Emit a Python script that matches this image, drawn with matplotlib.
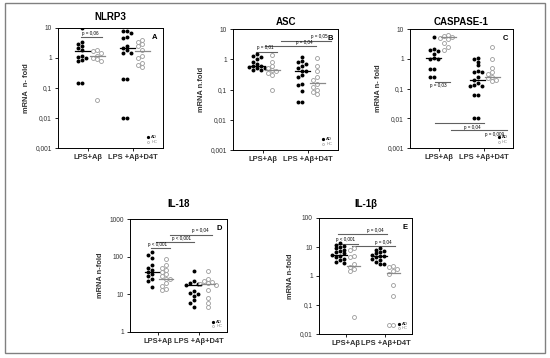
import numpy as np
import matplotlib
matplotlib.use('Agg')
import matplotlib.pyplot as plt
from matplotlib.patches import Rectangle

plt.rcParams['font.family'] = ['Liberation Sans', 'DejaVu Sans']

groups = ['LPS+A\u03b2', 'LPS +A\u03b2+D4T']

# NLRP3
a_ad_ab = [10, 3.5, 3, 2.6, 2.2, 1.9, 1.2, 1.1, 1.0, 0.85, 0.8, 0.15, 0.15]
a_hc_ab = [1.9, 1.7, 1.5, 1.2, 1.0, 0.9, 0.8, 0.04]
a_ad_d4 = [8, 7.8, 7, 5, 4.5, 2.5, 2.1, 1.8, 1.5, 1.5, 0.2, 0.2, 0.01, 0.01]
a_hc_d4 = [4, 3.5, 3, 2.5, 1.8, 1.2, 1.0, 0.7, 0.6, 0.5]
a_med = [1.7, 1.2, 2.2, 1.7]
# ASC
b_ad_ab = [1.5, 1.3, 1.2, 1.0, 0.8, 0.7, 0.62, 0.6, 0.55, 0.5, 0.5, 0.45, 0.45]
b_hc_ab = [1.4, 0.8, 0.6, 0.5, 0.45, 0.4, 0.35, 0.3, 0.1]
b_ad_d4 = [1.2, 0.9, 0.8, 0.7, 0.6, 0.5, 0.4, 0.4, 0.3, 0.25, 0.15, 0.14, 0.09, 0.04, 0.04]
b_hc_d4 = [1.1, 0.6, 0.4, 0.25, 0.2, 0.15, 0.12, 0.1, 0.08, 0.07]
b_med = [0.6, 0.45, 0.4, 0.17]
# CASPASE-1
c_ad_ab = [5.5, 2.2, 2.0, 1.8, 1.5, 1.1, 1.0, 1.0, 0.45, 0.45, 0.25, 0.25]
c_hc_ab = [6.2, 5.8, 5.5, 5.0, 4.5, 3.5, 2.5, 2.0]
c_ad_d4 = [1.1, 1.0, 0.8, 0.6, 0.4, 0.35, 0.35, 0.25, 0.2, 0.15, 0.13, 0.12,
           0.12, 0.06, 0.06, 0.01, 0.01]
c_hc_d4 = [2.4, 1.0, 0.5, 0.35, 0.3, 0.25, 0.22, 0.2, 0.18]
c_med = [1.1, 5.3, 0.2, 0.25]
# IL-18
d_ad_ab = [130, 110, 90, 60, 50, 45, 40, 35, 30, 25, 22, 16]
d_hc_ab = [85, 60, 50, 45, 40, 35, 30, 25, 25, 20, 17, 14, 13]
d_ad_d4 = [42, 22, 20, 19, 18, 12, 11, 10, 9, 7, 6, 4.5]
d_hc_d4 = [42, 25, 22, 21, 20, 19, 18, 13, 8, 6, 4.5]
d_med = [40, 25, 18, 19]
# IL-1b
e_ad_ab = [14, 12, 11, 10, 9, 8, 7, 6.5, 6, 5.5, 5, 4.5, 4, 3.5, 3, 2.8]
e_hc_ab = [9, 8, 5, 4.5, 2.5, 2.0, 1.8, 1.5, 0.04]
e_ad_d4 = [9, 8, 7, 6.5, 6, 5.5, 5, 4.8, 4.5, 4, 3.5, 3, 2.5, 2.5]
e_hc_d4 = [2.2, 2.0, 1.8, 1.5, 1.2, 0.5, 0.2, 0.02, 0.02]
e_med = [5.5, 2.2, 5.0, 1.3]

W, H = 550, 358
fig = plt.figure(figsize=(W / 100, H / 100), dpi=100)
fig.patches.append(Rectangle((5 / W, 1 - 353 / H), 540 / W, 350 / H,
                             transform=fig.transFigure, fill=False,
                             edgecolor='#808080', lw=1))

XPOS = [0.8, 1.3, 2.3, 2.8]  # AD/HC for each group
TICKS = [1.0, 2.5]


def swarm(ax, x0, vals, d=4.0):
    # place points side by side when they overlap (pixel space)
    pts = []
    for v in sorted(vals, reverse=True):
        px, py = ax.transData.transform((x0, v))
        k = 0
        while True:
            off = ((k + 1) // 2) * d * (1 if k % 2 == 0 else -1)
            if all((px + off - qx) ** 2 + (py - qy) ** 2 >= (d * 0.9) ** 2
                   for qx, qy in pts):
                break
            k += 1
        pts.append((px + off, py))
    inv = ax.transData.inverted()
    return np.array([inv.transform(p) for p in pts])


def panel(rect, title, letter, ylabel, ylim, yticks, ylabs, series, meds,
          brackets, title_y):
    l, t, w, h = rect
    ax = fig.add_axes([l / W, 1 - (t + h) / H, w / W, h / H])
    ax.set_yscale('log')
    ax.set_ylim(ylim)
    ax.set_xlim(0, 3.5)
    ax.set_yticks(yticks)
    ax.set_yticklabels(ylabs)
    ax.yaxis.set_minor_locator(plt.NullLocator())
    ax.set_xticks(TICKS)
    ax.set_xticklabels(groups, fontsize=5.4, fontweight='bold',
                       color='#333333')
    ax.tick_params(axis='y', labelsize=4.8, length=2.5, width=0.6, pad=2,
                   labelcolor='#333333')
    ax.tick_params(axis='x', length=2.5, width=0.6, pad=2)
    for s in ax.spines.values():
        s.set_linewidth(0.7)
    ax.set_ylabel(ylabel, fontsize=5.4, fontweight='bold', labelpad=4,
                  color='#333333')
    fig.text((l + w / 2) / W, 1 - title_y / H, title, fontsize=7,
             fontweight='bold', ha='center', va='center')
    ax.text(0.95, 0.95, letter, transform=ax.transAxes, fontsize=5.5,
            fontweight='bold', ha='right', va='top')
    for i, vals in enumerate(series):
        p = swarm(ax, XPOS[i], vals)
        if i % 2 == 0:
            ax.scatter(p[:, 0], p[:, 1], s=8, c='black', linewidths=0,
                       zorder=3)
            col = 'black'
        else:
            ax.scatter(p[:, 0], p[:, 1], s=8, facecolors='white',
                       edgecolors='#9a9a9a', linewidths=0.6, zorder=3)
            col = '#8a8a8a'
        ax.plot([XPOS[i] - 0.25, XPOS[i] + 0.25], [meds[i], meds[i]],
                color=col, lw=0.9, zorder=4)
    for x1, x2, y, lab, below in brackets:
        ax.plot([x1, x2], [y, y], color='#606060', lw=0.8)
        ax.annotate(lab, (x2, y), xytext=(-2, -1.2 if below else 1.0),
                    textcoords='offset points', fontsize=3.3,
                    ha='right', va='top' if below else 'bottom')
    ax.plot([0.86], [0.09], 'o', ms=1.3, color='black',
            transform=ax.transAxes)
    ax.plot([0.86], [0.05], 'o', ms=1.5, mfc='white', mec='#9a9a9a',
            mew=0.4, transform=ax.transAxes)
    ax.text(0.89, 0.09, 'AD', transform=ax.transAxes, fontsize=3.0,
            va='center')
    ax.text(0.89, 0.05, 'HC', transform=ax.transAxes, fontsize=3.0,
            va='center', color='#808080')
    return ax


dec4 = [0.001, 0.01, 0.1, 1, 10]
dec4l = ['0,001', '0,01', '0,1', '1', '10']

panel((58, 28, 105, 120), 'NLRP3', 'A', 'mRNA  n- fold', (0.001, 10), dec4,
      dec4l, [a_ad_ab, a_hc_ab, a_ad_d4, a_hc_d4], a_med,
      [(0.75, 1.45, 5.0, 'p = 0,06', False)], 17)

panel((233, 29, 105, 121), 'ASC', 'B', 'mRNA n.fold', (0.001, 10), dec4,
      dec4l, [b_ad_ab, b_hc_ab, b_ad_d4, b_hc_d4], b_med,
      [(0.75, 1.45, 1.8, 'p = 0,01', False),
       (1.05, 2.75, 2.7, 'p = 0,04', False),
       (1.6, 3.25, 4.1, 'p = 0,05', False)], 22)

panel((410, 29, 103, 119), 'CASPASE-1', 'C', 'mRNA n- fold', (0.001, 10),
      dec4, dec4l, [c_ad_ab, c_hc_ab, c_ad_d4, c_hc_d4], c_med,
      [(0.85, 1.35, 0.17, 'p = 0,03', True),
       (0.85, 2.5, 0.007, 'p = 0,04', True),
       (1.4, 3.3, 0.004, 'p = 0,009', True)], 22)

panel((130, 219, 97, 113), 'IL-18', 'D', 'mRNA n-fold', (1, 1000),
      [1, 10, 100, 1000], ['1', '10', '100', '1000'],
      [d_ad_ab, d_hc_ab, d_ad_d4, d_hc_d4], d_med,
      [(0.75, 1.45, 170, 'p < 0,001', False),
       (0.95, 2.3, 240, 'p < 0,001', False),
       (1.45, 2.95, 380, 'p = 0,04', False)], 204)

panel((319, 218, 93, 116), 'IL-1\u03b2', 'E', 'mRNA n-fold', (0.01, 100),
      [0.01, 0.1, 1, 10, 100], ['0,01', '0,1', '1', '10', '100'],
      [e_ad_ab, e_hc_ab, e_ad_d4, e_hc_d4], e_med,
      [(0.7, 1.45, 13, 'p < 0,001', False),
       (0.7, 2.55, 28, 'p = 0,04', False),
       (1.25, 2.85, 10.5, 'p = 0,04', False)], 204)

fig.savefig('out.png', dpi=100)
